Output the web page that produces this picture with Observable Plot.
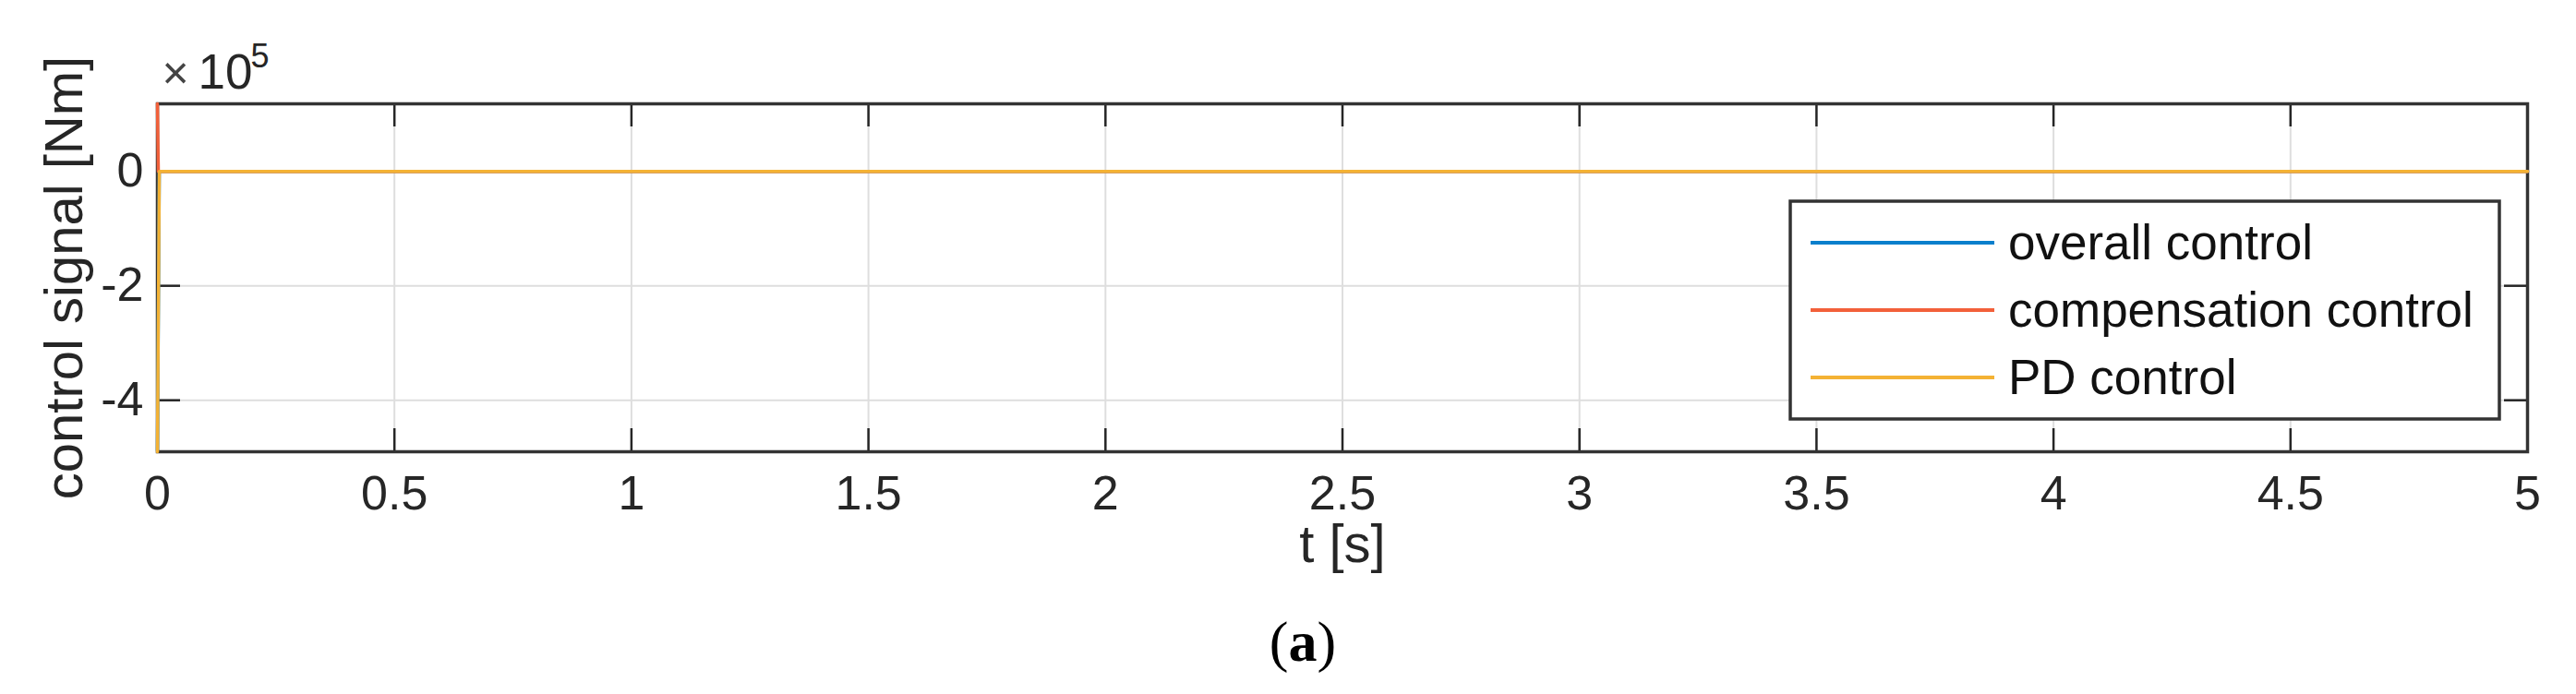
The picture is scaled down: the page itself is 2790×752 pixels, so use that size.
<!DOCTYPE html>
<html>
<head>
<meta charset="utf-8">
<script src="https://cdn.jsdelivr.net/npm/d3@7"></script>
<script src="https://cdn.jsdelivr.net/npm/@observablehq/plot@0.6"></script>
<style>
  html, body { margin: 0; padding: 0; background: #fff; }
  #wrap { position: relative; width: 2790px; height: 752px; overflow: hidden; }
  #wrap svg { display: block; }
  .overlay { position: absolute; left: 0; pointer-events: none; }
</style>
</head>
<body>
<div id="wrap"></div>
<script>
// ---- data ----
const xTicks = [0, 0.5, 1, 1.5, 2, 2.5, 3, 3.5, 4, 4.5, 5];
const yTicks = [-4e5, -2e5, 0];
const xDomain = [0, 5];
const yDomain = [-4.9e5, 1.18e5];

const seriesNames = ["overall control", "compensation control", "PD control"];
const seriesColors = ["#0a7fcc", "#f2603a", "#f4b234"];

const tOverall = [0, 0.004, 5];
const overallValues = [-4.88e5, 0, 0];
const tCompensation = [0, 0.002, 5];
const compensationValues = [1.18e5, 0, 0];
const tPD = [0, 0.004, 5];
const pdValues = [-4.9e5, 0, 0];

const xLabel = "t [s]";
const yLabel = "control signal [Nm]";
const captionLetter = "a";

// ---- layout ----
const W = 2790, H = 640;
const mL = 170, mR = 53, mT = 112, mB = 151;
const pw = W - mL - mR, ph = H - mT - mB;
const tickLen = 25;
const ink = "#262626";
const font = "'Liberation Sans', Arial, Helvetica, sans-serif";

const toRows = (ts, vs) => ts.map((t, i) => ({t, v: vs[i]}));
const series = [
  toRows(tOverall, overallValues),
  toRows(tCompensation, compensationValues),
  toRows(tPD, pdValues)
];

const chart = Plot.plot({
  width: W, height: H,
  marginLeft: mL, marginRight: mR, marginTop: mT, marginBottom: mB,
  style: {fontFamily: font, background: "#fff", overflow: "visible"},
  x: {domain: xDomain},
  y: {domain: yDomain},
  marks: [
    Plot.gridX(xTicks, {stroke: "#dedede", strokeOpacity: 1, strokeWidth: 2}),
    Plot.gridY(yTicks, {stroke: "#dedede", strokeOpacity: 1, strokeWidth: 2}),
    Plot.ruleX(xTicks, {x: d => d, insetTop: ph - tickLen, stroke: ink, strokeWidth: 2.5}),
    Plot.ruleX(xTicks, {x: d => d, insetBottom: ph - tickLen, stroke: ink, strokeWidth: 2.5}),
    Plot.ruleY(yTicks, {y: d => d, insetRight: pw - tickLen, stroke: ink, strokeWidth: 2.5}),
    Plot.ruleY(yTicks, {y: d => d, insetLeft: pw - tickLen, stroke: ink, strokeWidth: 2.5}),
    Plot.frame({stroke: "#333", strokeWidth: 3.5}),
    ...series.map((rows, i) => Plot.line(rows, {x: "t", y: "v", stroke: seriesColors[i], strokeWidth: 3.5})),
    Plot.axisX(xTicks, {tickSize: 0, tickPadding: 26, fontSize: 52, color: ink, label: null, tickFormat: d => String(d)}),
    Plot.axisY(yTicks, {tickSize: 0, tickPadding: 15, fontSize: 52, color: ink, label: null, tickFormat: d => String(d / 1e5)}),
    Plot.text([xLabel], {text: d => d, frameAnchor: "bottom", textAnchor: "middle", lineAnchor: "bottom", dy: 119, fontSize: 58, fill: ink}),
    Plot.text([yLabel], {text: d => d, frameAnchor: "left", textAnchor: "middle", rotate: -90, lineAnchor: "bottom", dx: -82, fontSize: 58, fill: ink}),
    Plot.text(["×"], {text: d => d, frameAnchor: "top-left", textAnchor: "start", lineAnchor: "bottom", dx: 5, dy: -17, fontSize: 50, fill: "#444"}),
    Plot.text(["10"], {text: d => d, frameAnchor: "top-left", textAnchor: "start", lineAnchor: "bottom", dx: 44, dy: -17, fontSize: 53, fill: ink}),
    Plot.text(["5"], {text: d => d, frameAnchor: "top-left", textAnchor: "start", lineAnchor: "bottom", dx: 101, dy: -40, fontSize: 36, fill: ink})
  ]
});

const wrap = document.getElementById("wrap");
wrap.appendChild(chart);

// ---- legend (inside plot area, overlay) ----
const leg = d3.select(wrap).append("svg")
  .attr("class", "overlay").style("top", "0px")
  .attr("width", W).attr("height", H);
const box = {x: 1939, y: 218, w: 768, h: 236};
leg.append("rect").attr("x", box.x).attr("y", box.y).attr("width", box.w).attr("height", box.h)
  .attr("fill", "#fff").attr("stroke", "#333").attr("stroke-width", 3.5);
const rowY = [263, 336, 409];
seriesNames.forEach((name, i) => {
  leg.append("line").attr("x1", 1961).attr("x2", 2160).attr("y1", rowY[i]).attr("y2", rowY[i])
    .attr("stroke", seriesColors[i]).attr("stroke-width", 4);
  leg.append("text").attr("x", 2175).attr("y", rowY[i] + 18)
    .attr("font-family", font).attr("font-size", 53).attr("fill", "#111").text(name);
});

// ---- caption below the chart ----
const cap = d3.select(wrap).append("svg")
  .attr("class", "overlay").style("top", H + "px")
  .attr("width", W).attr("height", 752 - H);
const ct = cap.append("text").attr("x", 1411).attr("y", 76).attr("text-anchor", "middle")
  .attr("font-family", "'Palatino Linotype', Palatino, 'Book Antiqua', 'Liberation Serif', 'DejaVu Serif', serif")
  .attr("font-size", 62).attr("fill", "#000");
ct.append("tspan").text("(");
ct.append("tspan").attr("font-weight", "bold").text(captionLetter);
ct.append("tspan").text(")");
</script>
</body>
</html>
